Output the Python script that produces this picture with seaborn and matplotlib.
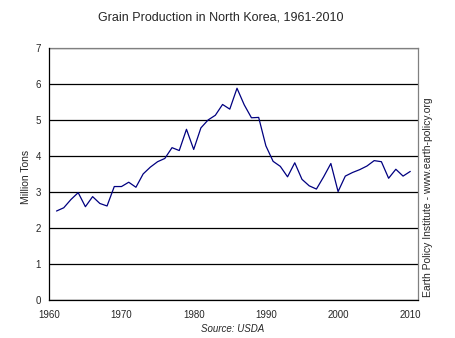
import matplotlib
matplotlib.use("Agg")
import matplotlib.pyplot as plt
import seaborn as sns
import pandas as pd

# Annual grain production in North Korea (million tons)
years = list(range(1961, 2011))
production = [
    2.48, 2.57, 2.80, 2.99, 2.60, 2.88, 2.69, 2.62, 3.16, 3.16,
    3.28, 3.14, 3.51, 3.70, 3.85, 3.94, 4.24, 4.16, 4.75, 4.19,
    4.79, 5.01, 5.14, 5.44, 5.31, 5.89, 5.43, 5.07, 5.08, 4.29,
    3.86, 3.72, 3.43, 3.82, 3.36, 3.18, 3.09, 3.43, 3.80, 3.02,
    3.45, 3.55, 3.63, 3.73, 3.88, 3.85, 3.39, 3.64, 3.45, 3.58,
]
x_ticks = [1960, 1970, 1980, 1990, 2000, 2010]
y_ticks = [0, 1, 2, 3, 4, 5, 6, 7]

df = pd.DataFrame({"Year": years, "Production": production})

sns.set_style("white")
plt.rcParams["font.family"] = ["Liberation Sans", "DejaVu Sans"]

fig = plt.figure(figsize=(4.56, 3.38), dpi=100)
W, H = 456, 338
left, right, top, bottom = 49.3, 418, 48.3, 300.3
ax = fig.add_axes([left / W, 1 - bottom / H, (right - left) / W, (bottom - top) / H])

sns.lineplot(data=df, x="Year", y="Production", ax=ax, color="#000080",
             linewidth=0.9, zorder=3)

ax.set_xlim(1960, 2011.07)
ax.set_ylim(0, 7)
ax.set_xticks(x_ticks)
ax.set_yticks(y_ticks)
ax.tick_params(axis="both", labelsize=7, length=4, width=0.8, color="black",
               direction="out", pad=2)
ax.tick_params(axis="x", pad=3)
ax.yaxis.grid(True, color="black", linewidth=0.9)
ax.xaxis.grid(False)
ax.set_axisbelow(True)

for side in ["left", "bottom"]:
    ax.spines[side].set_color("black")
    ax.spines[side].set_linewidth(0.9)
for side in ["top", "right"]:
    ax.spines[side].set_color("#808080")
    ax.spines[side].set_linewidth(0.9)
ax.spines["left"].set_zorder(4)
ax.spines["bottom"].set_zorder(4)

ax.set_xlabel("")
ax.set_ylabel("Million Tons", fontsize=7.5)
ax.yaxis.set_label_coords(-18 / (right - left), 0.49)

fig.text(221 / W, 1 - 17 / H, "Grain Production in North Korea, 1961-2010",
         ha="center", va="center", fontsize=9)
fig.text(233 / W, 1 - 329 / H, "Source: USDA", ha="center", va="center",
         fontsize=7, style="italic")
fig.text(428 / W, 1 - 197 / H, "Earth Policy Institute - www.earth-policy.org",
         ha="center", va="center", rotation=90, fontsize=7.5)

fig.savefig("out.png", dpi=100, facecolor="white")
